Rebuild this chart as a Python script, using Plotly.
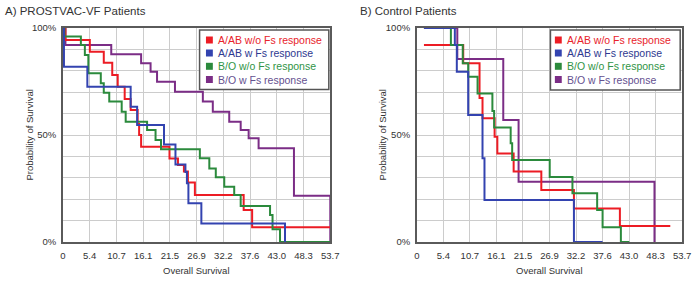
import plotly.graph_objects as go

# ---------------- data ----------------
series_names = ["A/AB w/o Fs response", "A/AB w Fs response",
                "B/O w/o Fs response", "B/O w Fs response"]

# Panel A: PROSTVAC-VF patients (time, survival %)
a_red_t = [0, 0.5, 5.4, 8.2, 9.9, 11.0, 12.4, 13.6, 15.0, 15.3, 15.7, 21.4, 23.1, 24.3, 25.1, 26.5, 36.3, 38.0, 53.7]
a_red_s = [100, 94.4, 88.9, 83.8, 78.0, 72.6, 66.8, 61.7, 55.1, 50.0, 44.5, 39.0, 36.0, 33.0, 27.8, 22.0, 15.0, 6.9, 6.9]

a_blue_t = [0, 0.2, 4.9, 13.6, 14.9, 20.3, 22.6, 24.6, 24.9, 25.2, 27.8, 44.6]
a_blue_s = [100, 81.9, 72.6, 63.2, 54.7, 45.6, 36.2, 32.7, 27.4, 18.1, 8.7, 0]

a_green_t = [0, 0.3, 3.6, 4.4, 5.1, 7.6, 8.2, 9.3, 11.8, 12.6, 16.9, 18.6, 19.7, 27.5, 29.4, 30.7, 32.4, 34.4, 35.7, 41.6, 42.1, 43.6, 53.7]
a_green_s = [100, 96.0, 92.1, 87.4, 78.8, 74.2, 69.8, 65.6, 60.9, 56.2, 52.3, 47.7, 43.3, 39.1, 34.4, 30.2, 25.8, 22.0, 16.8, 12.6, 5.9, 0, 0]

a_purple_t = [0, 0.5, 9.7, 15.7, 17.6, 18.9, 22.5, 28.1, 30.1, 33.4, 35.7, 37.3, 39.3, 46.4, 53.7]
a_purple_s = [100, 92.1, 87.7, 83.5, 79.6, 74.9, 70.2, 65.6, 60.9, 56.2, 52.3, 48.5, 43.8, 21.6, 0]

# Panel B: Control patients
b_red_t = [1.45, 9.4, 12.7, 13.3, 15.75, 16.3, 19.6, 25.2, 31.8, 41.1, 51.3]
b_red_s = [92.1, 83.5, 67.3, 57.8, 49.2, 41.4, 32.9, 24.3, 15.7, 7.5, 7.5]

b_blue_t = [1.45, 7.7, 8.1, 10.4, 13.3, 13.7, 31.8, 37.6]
b_blue_s = [100, 92.1, 79.6, 59.3, 39.1, 19.6, 0, 0]

b_green_t = [1.45, 6.9, 9.3, 10.4, 12.3, 15.3, 15.65, 19.0, 19.3, 26.9, 31.5, 36.5, 37.6, 41.3, 43.0]
b_green_s = [100, 92.1, 83.5, 77.2, 69.4, 61.2, 53.5, 46.1, 38.3, 30.4, 22.8, 15.0, 6.9, 0, 0]

b_purple_t = [1.45, 8.2, 17.5, 20.6, 48.1, 48.3]
b_purple_s = [100, 85.5, 57.0, 28.2, 0, 0]

x_tickvals = [0, 5.37, 10.74, 16.11, 21.48, 26.85, 32.22, 37.59, 42.96, 48.33, 53.7]
x_ticktext = ["0", "5.4", "10.7", "16.1", "21.5", "26.9", "32.2", "37.6", "43.0", "48.3", "53.7"]
y_tickvals = [0, 10, 20, 30, 40, 50, 60, 70, 80, 90, 100]
y_ticktext = ["0%", "", "", "", "", "50%", "", "", "", "", "100%"]

panel_titles = ["A) PROSTVAC-VF Patients", "B) Control Patients"]
x_title = "Overall Survival"
y_title = "Probability of Survival"

# ---------------- styling ----------------
line_colors = ["#ec1c24", "#3343b0", "#2b8a3c", "#7b2d86"]
text_colors = ["#e8232b", "#2e3990", "#2f9446", "#64508f"]
FONT = "Liberation Sans, Arial, sans-serif"

fig = go.Figure()

panels = [
    ("x", "y", [(a_red_t, a_red_s), (a_blue_t, a_blue_s), (a_green_t, a_green_s), (a_purple_t, a_purple_s)]),
    ("x2", "y2", [(b_red_t, b_red_s), (b_blue_t, b_blue_s), (b_green_t, b_green_s), (b_purple_t, b_purple_s)]),
]
draw_order = [3, 0, 2, 1]
for xa, ya, data in panels:
    for i in draw_order:
        t, s = data[i]
        fig.add_trace(go.Scatter(
            x=t, y=s, mode="lines", line=dict(color=line_colors[i], width=2, shape="hv"),
            name=series_names[i], showlegend=False, xaxis=xa, yaxis=ya, hoverinfo="skip"))

ax_common = dict(
    range=[0, 53.7], tickvals=x_tickvals, ticktext=x_ticktext,
    showgrid=True, gridcolor="#cccccc", gridwidth=1, zeroline=False,
    showline=True, linecolor="#5a5a5a", linewidth=1.5, mirror=True,
    ticks="outside", ticklen=4, tickcolor="rgba(0,0,0,0)",
    tickfont=dict(family=FONT, size=9.5, color="#333333"),
)
ay_common = dict(
    range=[0, 100], tickvals=y_tickvals, ticktext=y_ticktext,
    showgrid=True, gridcolor="#cccccc", gridwidth=1, zeroline=False,
    showline=True, linecolor="#5a5a5a", linewidth=1.5, mirror=True,
    ticks="outside", ticklen=3, tickcolor="rgba(0,0,0,0)",
    tickfont=dict(family=FONT, size=9.5, color="#333333"),
)

fig.update_layout(
    width=700, height=284,
    margin=dict(l=0, r=0, t=28, b=42),
    paper_bgcolor="white", plot_bgcolor="white",
    showlegend=False,
    xaxis=dict(domain=[61/700, 333/700], anchor="y", **ax_common),
    yaxis=dict(domain=[0, 1], anchor="x", **ay_common),
    xaxis2=dict(domain=[421/700, 691/700], anchor="y2", **ax_common),
    yaxis2=dict(domain=[0, 1], anchor="x2", **ay_common),
)

annotations = []
shapes = []
PH = 214.0
panel_px = [(61, 333), (421, 691)]
title_x = [0, 361]
ytitle_x = [26, 386]
legend_box = [(200, 331.5, 30, 89.5), (557, 689, 30, 90)]
legend_sq_x = [210, 565]
legend_rows = [40, 53, 66.3, 79.5]

for p, (xref_d, yref_d) in enumerate([("x domain", "y domain"), ("x2 domain", "y2 domain")]):
    x0, x1 = panel_px[p]
    W = float(x1 - x0)
    # panel title
    annotations.append(dict(text=panel_titles[p], xref="paper", yref="paper",
                            x=title_x[p] / 700, y=1 + (28 - 11) / PH, xanchor="left", yanchor="middle",
                            showarrow=False, font=dict(family=FONT, size=11.5, color="#333333")))
    # axis titles
    annotations.append(dict(text=x_title, xref="paper", yref="paper",
                            x=(x0 + x1) / 2 / 700, y=-(270 - 242) / PH, xanchor="center", yanchor="middle",
                            showarrow=False, font=dict(family=FONT, size=9.5, color="#333333")))
    annotations.append(dict(text=y_title, xref="paper", yref="paper", textangle=-90,
                            x=ytitle_x[p] / 700, y=0.5, xanchor="center", yanchor="middle",
                            showarrow=False, font=dict(family=FONT, size=9.5, color="#333333")))
    # legend box
    lx0, lx1, ly0, ly1 = legend_box[p]
    shapes.append(dict(type="rect", xref=xref_d, yref=yref_d,
                       x0=(lx0 - x0) / W, x1=(lx1 - x0) / W,
                       y0=(242 - ly1) / PH, y1=(242 - ly0) / PH,
                       line=dict(color="#555555", width=1.5), fillcolor="white", layer="above"))
    for r, name in enumerate(series_names):
        cy = legend_rows[r]
        sx = legend_sq_x[p]
        shapes.append(dict(type="rect", xref=xref_d, yref=yref_d,
                           x0=(sx - 3.5 - x0) / W, x1=(sx + 3.5 - x0) / W,
                           y0=(242 - cy - 3.5) / PH, y1=(242 - cy + 3.5) / PH,
                           line=dict(width=0), fillcolor=line_colors[r], layer="above"))
        annotations.append(dict(text=name, xref=xref_d, yref=yref_d,
                                x=(sx + 7 - x0) / W, y=(242 - cy) / PH,
                                xanchor="left", yanchor="middle", showarrow=False,
                                font=dict(family=FONT, size=10.5, color=text_colors[r])))

fig.update_layout(annotations=annotations, shapes=shapes)
fig.write_html("out.html",
               config={"displayModeBar": False},
               post_script="document.body.style.margin='0';document.body.style.padding='0';")
